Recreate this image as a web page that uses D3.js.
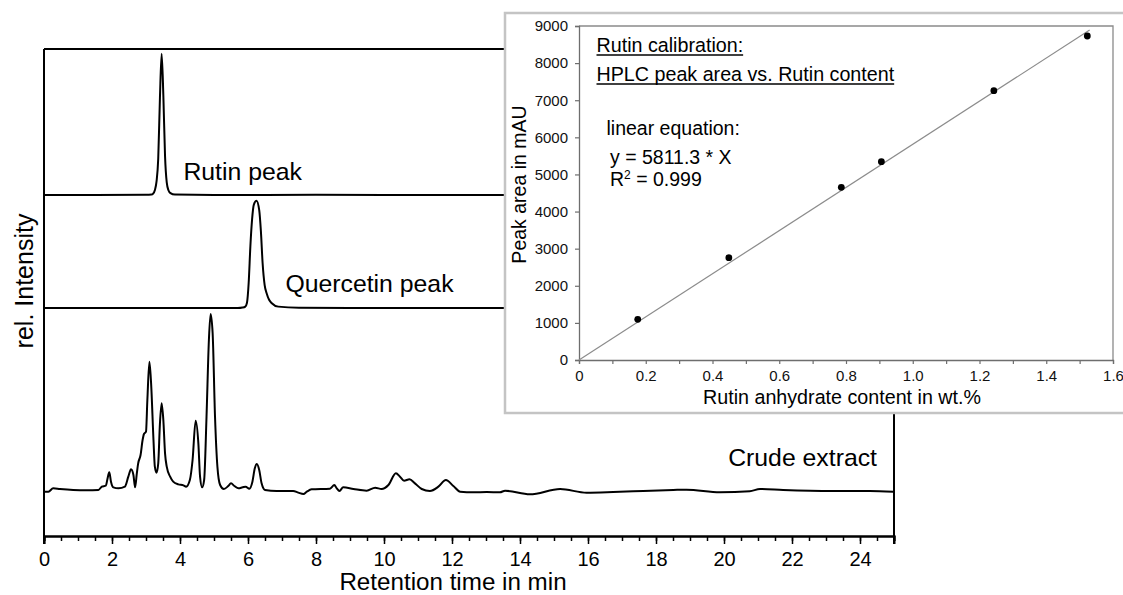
<!DOCTYPE html>
<html>
<head>
<meta charset="utf-8">
<script src="https://cdn.jsdelivr.net/npm/d3@7"></script>
<style>
  html, body { margin: 0; padding: 0; background: #fff; }
  svg { display: block; font-family: "Liberation Sans", Arial, sans-serif; }
</style>
</head>
<body>
<svg id="chart" width="1123" height="595"></svg>
<script>
// ---------------- DATA ----------------
// Chromatograms: retention time (min) and relative intensity (stacked, arbitrary units)
const crudeTime = [0, 0.13, 0.27, 0.47, 0.86, 1.25, 1.60, 1.70, 1.82, 1.86, 1.92, 1.97, 2.04, 2.19, 2.38, 2.48, 2.56, 2.63, 2.68, 2.73, 2.77, 2.84, 2.90, 2.94, 3.00, 3.04, 3.10, 3.15, 3.22, 3.26, 3.31, 3.36, 3.41, 3.46, 3.51, 3.56, 3.61, 3.71, 3.80, 3.95, 4.10, 4.18, 4.29, 4.37, 4.46, 4.54, 4.59, 4.65, 4.71, 4.78, 4.85, 4.90, 4.96, 5.03, 5.10, 5.18, 5.29, 5.42, 5.50, 5.60, 5.72, 5.84, 5.93, 6.04, 6.13, 6.20, 6.26, 6.33, 6.40, 6.50, 6.84, 7.33, 7.48, 7.63, 7.73, 7.87, 8.41, 8.54, 8.61, 8.69, 8.80, 9.10, 9.49, 9.74, 9.93, 10.13, 10.35, 10.47, 10.59, 10.75, 10.91, 11.11, 11.35, 11.60, 11.82, 12.04, 12.24, 12.63, 13.02, 13.41, 13.56, 14.29, 15.18, 15.96, 16.74, 17.33, 18.51, 18.90, 19.88, 20.76, 21.06, 21.74, 23.21, 24.29, 24.98];
const crudeIntensity = [9.10, 9.10, 9.79, 9.65, 9.45, 9.38, 9.45, 10.13, 10.34, 11.5, 13.07, 11.16, 9.99, 9.79, 10.13, 12.18, 13.69, 12.53, 9.99, 12.87, 14.92, 16.63, 19.71, 20.94, 21.42, 27.93, 35.80, 31.35, 19.71, 14.24, 13.00, 14.92, 23.13, 27.24, 23.82, 16.97, 14.24, 12.18, 11.16, 10.61, 10.40, 10.13, 11.50, 15.61, 23.68, 19.03, 12.18, 9.99, 11.50, 24.50, 40.25, 45.59, 41.62, 24.50, 14.24, 10.47, 9.65, 10.27, 10.81, 10.27, 9.79, 9.99, 10.13, 9.72, 11.16, 13.89, 14.78, 13.55, 10.81, 9.45, 9.24, 9.24, 8.90, 8.62, 9.10, 9.58, 9.72, 10.47, 9.79, 9.24, 9.99, 9.65, 9.30, 9.92, 9.65, 10.47, 12.87, 12.18, 11.36, 11.64, 10.81, 9.65, 9.24, 10.13, 11.50, 10.27, 9.10, 8.97, 9.03, 8.97, 9.30, 8.56, 9.65, 8.89, 9.03, 9.18, 9.45, 9.51, 8.97, 9.18, 9.65, 9.45, 9.24, 9.24, 9.10];

const rutinTime = [0, 1.5, 3.0, 3.16, 3.21, 3.26, 3.31, 3.36, 3.41, 3.46, 3.51, 3.56, 3.61, 3.66, 3.72, 3.85, 5.0, 8.0, 12.0, 25.0];
const rutinIntensity = [70.0, 70.0, 70.05, 70.1, 70.3, 71.0, 72.8, 77.5, 90.0, 99.0, 90.5, 78.0, 72.6, 71.0, 70.4, 70.1, 70.0, 70.05, 70.0, 70.0];

const quercetinTime = [0, 3.0, 5.7, 5.84, 5.92, 5.97, 6.02, 6.07, 6.12, 6.17, 6.25, 6.33, 6.38, 6.43, 6.49, 6.55, 6.62, 6.70, 6.89, 7.5, 9.0, 25.0];
const quercetinIntensity = [46.8, 46.8, 46.8, 46.9, 47.1, 47.9, 52.0, 59.5, 65.0, 68.0, 68.85, 66.9, 62.5, 56.0, 51.5, 49.8, 48.5, 47.8, 47.1, 46.85, 46.8, 46.8];

// Calibration (inset)
const rutinContent = [0.176, 0.449, 0.786, 0.906, 1.243, 1.523];
const peakArea = [1097, 2757, 4654, 5344, 7257, 8730];
const calibSlope = 5811.3;
const calibRange = [0, 1.53];

// Tick values
const mainMajorTicks = [0, 2, 4, 6, 8, 10, 12, 14, 16, 18, 20, 22, 24];
const mainMinorTicks = d3.range(0, 25.01, 0.5);
const insetXMajorTicks = [0, 0.2, 0.4, 0.6, 0.8, 1.0, 1.2, 1.4, 1.6];
const insetXMinorTicks = d3.range(0, 1.601, 0.1);
const insetYTicks = [0, 1000, 2000, 3000, 4000, 5000, 6000, 7000, 8000, 9000];

// Text
const traceLabels = ["Rutin peak", "Quercetin peak", "Crude extract"];
const mainXTitle = "Retention time in min";
const mainYTitle = "rel. Intensity";
const insetTitles = ["Rutin calibration:", "HPLC peak area vs. Rutin content"];
const equationLines = ["linear equation:", "y = 5811.3 * X"];
const insetXTitle = "Rutin anhydrate content in wt.%";
const insetYTitle = "Peak area in mAU";

// ---------------- DRAW ----------------
const svg = d3.select("#chart");
const x = d3.scaleLinear().domain([0, 25]).range([44, 894]);
const y = d3.scaleLinear().domain([0, 100]).range([536, 49]);

// Frame (top and right lines)
svg.append("path")
  .attr("d", `M${x(0)},${y(100)} H${x(25)} V${y(0) + 8}`)
  .attr("fill", "none").attr("stroke", "#000").attr("stroke-width", 2);
// Left axis line
svg.append("line")
  .attr("x1", x(0)).attr("x2", x(0)).attr("y1", y(100)).attr("y2", y(0) + 8)
  .attr("stroke", "#000").attr("stroke-width", 2);

// Traces
const line = d3.line().curve(d3.curveMonotoneX).x(d => x(d[0])).y(d => y(d[1]));
const traces = [
  d3.zip(rutinTime, rutinIntensity),
  d3.zip(quercetinTime, quercetinIntensity),
  d3.zip(crudeTime, crudeIntensity)
];
svg.selectAll("path.trace").data(traces).enter().append("path")
  .attr("class", "trace")
  .attr("d", line)
  .attr("fill", "none").attr("stroke", "#000").attr("stroke-width", 2)
  .attr("stroke-linejoin", "round");

// X axis (minor + major)
const gMinor = svg.append("g").attr("transform", `translate(0,${y(0)})`)
  .call(d3.axisBottom(x).tickValues(mainMinorTicks).tickSize(5).tickFormat(""));
const gMajor = svg.append("g").attr("transform", `translate(0,${y(0)})`)
  .call(d3.axisBottom(x).tickValues(mainMajorTicks).tickSize(8).tickPadding(8).tickFormat(d3.format("d")));
[gMinor, gMajor].forEach(g => {
  g.select(".domain").attr("stroke", "#000").attr("stroke-width", 2);
  g.selectAll(".tick line").attr("stroke", "#000").attr("stroke-width", 1.5);
});
gMajor.selectAll(".tick text").attr("font-size", 20).attr("fill", "#000")
  .attr("font-family", '"Liberation Sans", Arial, sans-serif');

// Axis titles
svg.append("text").attr("x", 453).attr("y", 590).attr("text-anchor", "middle")
  .attr("font-size", 24.2).attr("fill", "#000").text(mainXTitle);
svg.append("text").attr("transform", "translate(33,281) rotate(-90)")
  .attr("text-anchor", "middle").attr("font-size", 25).attr("fill", "#000").text(mainYTitle);

// Trace labels
svg.append("text").attr("x", x(4.1)).attr("y", y(73.1)).attr("font-size", 24.8).text(traceLabels[0]);
svg.append("text").attr("x", x(7.1)).attr("y", y(50.2)).attr("font-size", 24.8).text(traceLabels[1]);
svg.append("text").attr("x", x(24.5)).attr("y", y(14.3)).attr("text-anchor", "end").attr("font-size", 24.8).text(traceLabels[2]);

// ---------------- INSET ----------------
const inset = svg.append("g");
inset.append("rect").attr("x", 505).attr("y", 13).attr("width", 640).attr("height", 400)
  .attr("fill", "#fff").attr("stroke", "#c4c4c4").attr("stroke-width", 2.5);

const xi = d3.scaleLinear().domain([0, 1.6]).range([579, 1113]);
const yi = d3.scaleLinear().domain([0, 9000]).range([360, 26]);

// plot frame (top, right)
inset.append("path")
  .attr("d", `M${xi(0)},${yi(9000)} H${xi(1.6)} V${yi(0)}`)
  .attr("fill", "none").attr("stroke", "#8a8a8a").attr("stroke-width", 1.3);

const gy = inset.append("g").attr("transform", `translate(${xi(0)},0)`)
  .call(d3.axisLeft(yi).tickValues(insetYTicks).tickSize(4).tickPadding(7).tickFormat(d3.format("d")));
const gx = inset.append("g").attr("transform", `translate(0,${yi(0)})`)
  .call(d3.axisBottom(xi).tickValues(insetXMinorTicks).tickSize(4).tickFormat(""));
const gx2 = inset.append("g").attr("transform", `translate(0,${yi(0)})`)
  .call(d3.axisBottom(xi).tickValues(insetXMajorTicks).tickSize(0).tickPadding(10)
    .tickFormat(d => d === 0 ? "0" : d3.format(".1f")(d)));
gx2.select(".domain").remove();
[gy, gx].forEach(g => {
  g.select(".domain").attr("stroke", "#6e6e6e").attr("stroke-width", 1.3);
  g.selectAll(".tick line").attr("stroke", "#6e6e6e").attr("stroke-width", 1.2);
});
[gy, gx2].forEach(g => g.selectAll(".tick text").attr("font-size", 15).attr("fill", "#111")
  .attr("font-family", '"Liberation Sans", Arial, sans-serif'));

// regression line
inset.append("line")
  .attr("x1", xi(calibRange[0])).attr("y1", yi(calibSlope * calibRange[0]))
  .attr("x2", xi(calibRange[1])).attr("y2", yi(calibSlope * calibRange[1]))
  .attr("stroke", "#8c8c8c").attr("stroke-width", 1.2);

// points
inset.selectAll("circle.pt").data(d3.zip(rutinContent, peakArea)).enter().append("circle")
  .attr("class", "pt").attr("cx", d => xi(d[0])).attr("cy", d => yi(d[1])).attr("r", 3.4)
  .attr("fill", "#000");

// titles with underline
const titleY = [51.7, 80.5];
insetTitles.forEach((t, i) => {
  const tx = inset.append("text").attr("x", 596.5).attr("y", titleY[i])
    .attr("font-size", 19.7).attr("fill", "#000").text(t);
  const w = tx.node().getComputedTextLength();
  inset.append("line").attr("x1", 596.5).attr("x2", 596.5 + w)
    .attr("y1", titleY[i] + 3.4).attr("y2", titleY[i] + 3.4)
    .attr("stroke", "#000").attr("stroke-width", 1.5);
});

inset.append("text").attr("x", 606.5).attr("y", 135).attr("font-size", 19.5).text(equationLines[0]);
inset.append("text").attr("x", 610).attr("y", 164).attr("font-size", 19.5).text(equationLines[1]);
const r2 = inset.append("text").attr("x", 610).attr("y", 186).attr("font-size", 19.5);
r2.append("tspan").text("R");
r2.append("tspan").attr("font-size", 12).attr("dy", -7).text("2");
r2.append("tspan").attr("dy", 7).text(" = 0.999");

inset.append("text").attr("x", 842).attr("y", 404).attr("text-anchor", "middle")
  .attr("font-size", 19.7).attr("fill", "#000").text(insetXTitle);
inset.append("text").attr("transform", "translate(526,184.5) rotate(-90)")
  .attr("text-anchor", "middle").attr("font-size", 19.5).attr("fill", "#000").text(insetYTitle);
</script>
</body>
</html>
